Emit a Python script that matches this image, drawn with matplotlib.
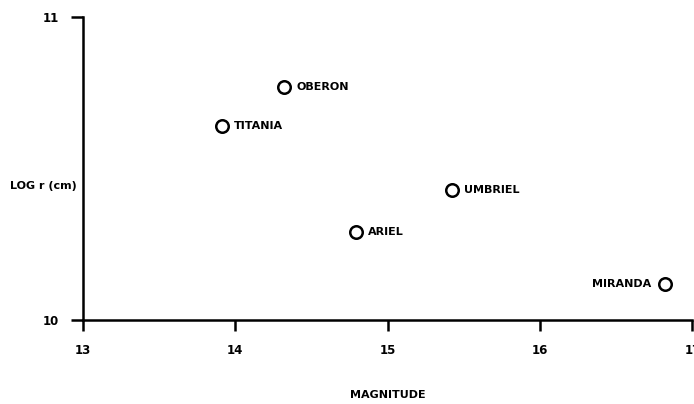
import numpy as np
import matplotlib.pyplot as plt

# satellites of Uranus: magnitude vs log radius
names = ["OBERON", "TITANIA", "UMBRIEL", "ARIEL", "MIRANDA"]
mag = [14.32, 13.91, 15.42, 14.79, 16.82]
logr = [10.77, 10.64, 10.43, 10.29, 10.12]
xticks = [13, 14, 15, 16, 17]
yticks = [10, 11]

plt.rcParams['font.family'] = ['DejaVu Sans Condensed', 'Liberation Sans Narrow', 'DejaVu Sans']
plt.rcParams['font.weight'] = 'bold'
plt.rcParams['axes.labelweight'] = 'bold'

fig = plt.figure(figsize=[6.94, 4.04], dpi=100)
ax = fig.add_axes([0.1196, 0.208, 0.878, 0.75])

ax.plot(mag, logr, "o", ms=9, mfc="white", mec="black", mew=1.8, ls="none", clip_on=False)
for n, x, y in zip(names, mag, logr):
    if n == "MIRANDA":
        ax.annotate(n, (x, y), xytext=(-10, 0), textcoords="offset points",
                    ha="right", va="center", fontsize=8)
    else:
        ax.annotate(n, (x, y), xytext=(9, 0), textcoords="offset points",
                    ha="left", va="center", fontsize=8)

ax.set_xlim(13, 17)
ax.set_ylim(10, 11)
ax.set_xticks(xticks)
ax.set_yticks(yticks)
ax.set_xticklabels([str(t) for t in xticks], fontsize=8.5)
ax.set_yticklabels([str(t) for t in yticks], fontsize=8.5)

for s in ["top", "right"]:
    ax.spines[s].set_visible(False)
for s in ["left", "bottom"]:
    ax.spines[s].set_linewidth(1.8)
ax.tick_params(axis="x", direction="out", length=8, width=1.8, pad=9)
ax.tick_params(axis="y", direction="out", length=9, width=1.8, pad=8)

ax.set_xlabel("MAGNITUDE", fontsize=8, labelpad=24)
fig.text(0.015, 1 - 186 / 404, "LOG r (cm)", fontsize=8, va="center", ha="left")

fig.savefig("out.png", dpi=100)
